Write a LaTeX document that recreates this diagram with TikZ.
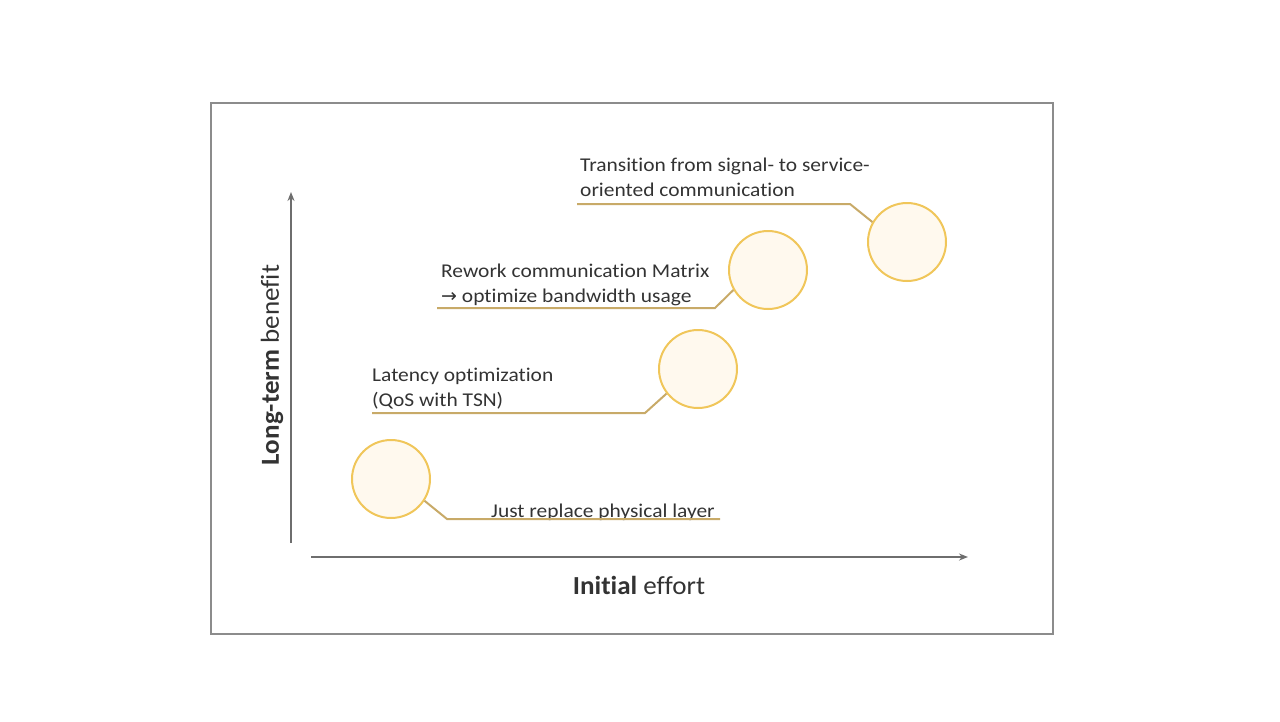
\documentclass[tikz,border=0pt]{standalone}
\usepackage{fontspec}
\setmainfont{Carlito}[FakeStretch=1.1, Ligatures=NoCommon]
\newfontfamily\axfont{Carlito}[FakeStretch=1.04, Ligatures=NoCommon]
\newfontfamily\arrowfont{DejaVu Sans}
\usetikzlibrary{arrows.meta}
\definecolor{ringc}{HTML}{F0C65A}
\definecolor{fillc}{HTML}{FFF9EE}
\definecolor{leadc}{HTML}{C8AA68}
\definecolor{txtc}{HTML}{333333}
\definecolor{framec}{HTML}{8C8C8C}
\definecolor{axisc}{HTML}{6E6E6E}
\tikzset{
  bubble/.style={circle, draw=ringc, fill=fillc, line width=2pt, minimum size=78pt, inner sep=0pt},
  leader/.style={draw=leadc, line width=2pt},
  lbl/.style={inner sep=0pt, align=left, text=txtc, font=\fontsize{19.5}{25}\selectfont},
  axisline/.style={draw=axisc, line width=1.6pt, -{Stealth[length=9pt,width=7pt]}},
  axlbl/.style={inner sep=0pt, text=txtc, font=\axfont\fontsize{26}{30}\selectfont}
}
\begin{document}
\begin{tikzpicture}[x=1pt,y=-1pt]
\useasboundingbox (0,0) rectangle (1280,721);
\node[draw=framec, line width=1.6pt, minimum width=842pt, minimum height=531pt, inner sep=0pt] (frame) at (632,368.5) {};
% axes
\coordinate (ya) at (291,543);
\coordinate (yb) at (291,192);
\coordinate (xa) at (311,557);
\coordinate (xb) at (968,557);
\draw[axisline] (ya) -- (yb);
\draw[axisline] (xa) -- (xb);
\node[axlbl] (xl) at (639,585) {\textbf{Initial} effort};
\node[axlbl, rotate=90] (yl) at (272,365) {\textbf{Long-term} benefit};
% bubbles
\node[bubble] (c1) at (391,479) {};
\node[bubble] (c2) at (698,369) {};
\node[bubble] (c3) at (768,270) {};
\node[bubble] (c4) at (907,242) {};
% labels
\node[lbl, anchor=north west] (t1) at (491,503.5) {Just replace physical layer};
\node[lbl, anchor=north west] (t2) at (372,368) {Latency optimization\\(QoS with TSN)};
\node[lbl, anchor=north west] (t3) at (441,264) {Rework communication Matrix\\{\arrowfont\fontsize{19}{25}\selectfont →} optimize bandwidth usage};
\node[lbl, anchor=north west] (t4) at (580,158) {Transition from signal- to service-\\oriented communication};
% leaders
\coordinate (k1) at (447,519); \coordinate (e1) at (720,519);
\coordinate (k2) at (645,413); \coordinate (e2) at (372,413);
\coordinate (k3) at (715,308); \coordinate (e3) at (437,308);
\coordinate (k4) at (850,204); \coordinate (e4) at (577,204);
\draw[leader] (c1.-33) -- (k1) -- (e1);
\draw[leader] (c2.218) -- (k2) -- (e2);
\draw[leader] (c3.210) -- (k3) -- (e3);
\draw[leader] (c4.150) -- (k4) -- (e4);
\end{tikzpicture}
\end{document}
